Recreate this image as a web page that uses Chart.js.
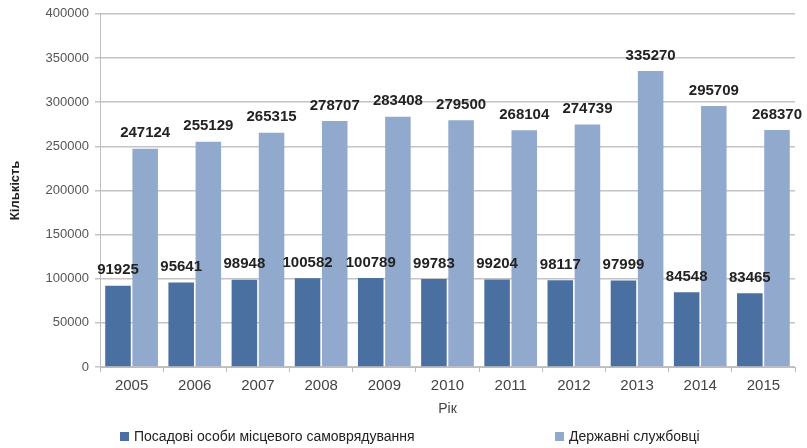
<!DOCTYPE html>
<html>
<head>
<meta charset="utf-8">
<script src="https://cdn.jsdelivr.net/npm/chart.js@4"></script>
<style>
  html, body { margin: 0; padding: 0; background: #fff; }
  #wrap { width: 807px; height: 448px; }
</style>
</head>
<body>
<div id="wrap"><canvas id="chart" width="807" height="448"></canvas></div>
<script>
// Years and the two staff series
const years = ['2005','2006','2007','2008','2009','2010','2011','2012','2013','2014','2015'];
const localOfficials = [91925, 95641, 98948, 100582, 100789, 99783, 99204, 98117, 97999, 84548, 83465];
const civilServants = [247124, 255129, 265315, 278707, 283408, 279500, 268104, 274739, 335270, 295709, 268370];
const seriesNames = ['Посадові особи місцевого самоврядування', 'Державні службовці'];

const darkBlue = 'rgb(74,111,161)';
const lightBlue = 'rgb(146,169,206)';
const FONT = '"Liberation Sans", Arial, sans-serif';

// value labels above every bar
const barLabels = {
  id: 'barLabels',
  afterDatasetsDraw(chart) {
    const ctx = chart.ctx;
    ctx.save();
    ctx.font = 'bold 15px ' + FONT;
    ctx.fillStyle = '#222';
    ctx.textAlign = 'center';
    ctx.textBaseline = 'bottom';
    chart.data.datasets.forEach((ds, i) => {
      chart.getDatasetMeta(i).data.forEach((bar, j) => {
        ctx.fillText(String(ds.data[j]), bar.x, bar.y - 8);
      });
    });
    ctx.restore();
  }
};

// legend row under the axis title, two widely spaced entries
const wideLegend = {
  id: 'wideLegend',
  afterDraw(chart) {
    const ctx = chart.ctx;
    const y = chart.height - 11;
    const slots = [chart.chartArea.left + 20, chart.chartArea.left + 455];
    ctx.save();
    ctx.font = '14px ' + FONT;
    ctx.textBaseline = 'middle';
    ctx.textAlign = 'left';
    chart.data.datasets.forEach((ds, i) => {
      ctx.fillStyle = ds.backgroundColor;
      ctx.fillRect(slots[i], y - 5, 9, 9);
      ctx.fillStyle = '#222';
      ctx.fillText(ds.label, slots[i] + 14, y);
    });
    ctx.restore();
  }
};

new Chart(document.getElementById('chart'), {
  type: 'bar',
  data: {
    labels: years,
    datasets: [
      { label: seriesNames[0], data: localOfficials, backgroundColor: darkBlue },
      { label: seriesNames[1], data: civilServants, backgroundColor: lightBlue }
    ]
  },
  options: {
    responsive: false,
    animation: false,
    layout: { padding: { top: 6, right: 12, left: 4, bottom: 25 } },
    datasets: { bar: { categoryPercentage: 0.86, barPercentage: 0.94 } },
    plugins: {
      tooltip: { enabled: false },
      legend: { display: false }
    },
    scales: {
      x: {
        grid: { display: true, drawOnChartArea: false, color: '#bdbdbd', tickLength: 5, offset: true },
        border: { color: '#bdbdbd' },
        ticks: { color: '#444', font: { size: 15, family: FONT }, padding: 5 },
        title: { display: true, text: 'Рік', color: '#444', font: { size: 14, family: FONT }, padding: { top: 4, bottom: 5 } },
        afterFit(scale) { scale.height = 56; }
      },
      y: {
        min: 0, max: 400000,
        ticks: { stepSize: 50000, color: '#555', font: { size: 13, family: FONT }, padding: 6,
                 callback: v => String(v) },
        grid: { color: '#c4c4c4', lineWidth: 1.5, tickLength: 5 },
        border: { color: '#bdbdbd' },
        title: { display: true, text: 'Кількість', color: '#222', font: { size: 13, weight: 'bold', family: FONT }, padding: { bottom: 14 } },
        afterFit(scale) { scale.width = 96; }
      }
    }
  },
  plugins: [barLabels, wideLegend]
});
</script>
</body>
</html>
